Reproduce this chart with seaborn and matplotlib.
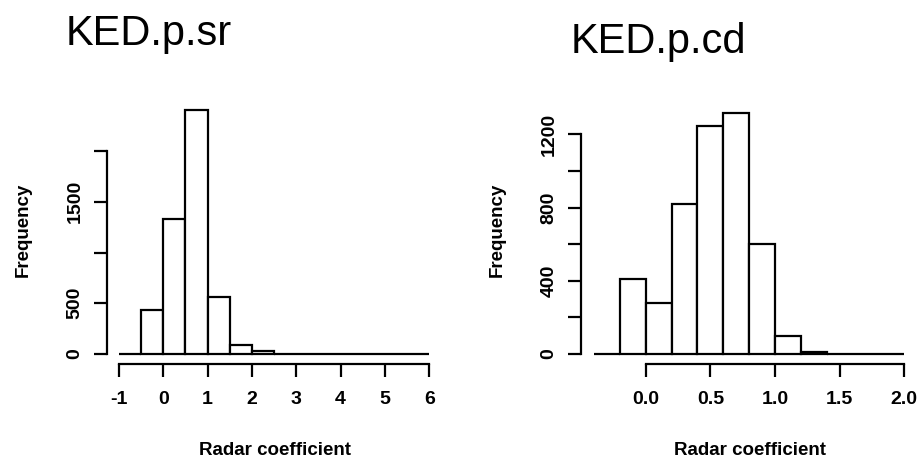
import matplotlib
matplotlib.use("Agg")
import matplotlib.pyplot as plt
import seaborn as sns
import numpy as np
import pandas as pd

## histogram data
sr_bins = [-1.0, -0.5, 0.0, 0.5, 1.0, 1.5, 2.0, 2.5, 3.0, 3.5, 4.0, 4.5, 5.0, 5.5, 6.0]
sr_counts = [0, 430, 1330, 2400, 565, 85, 25, 4, 2, 1, 1, 0, 0, 1]

cd_bins = [-0.4, -0.2, 0.0, 0.2, 0.4, 0.6, 0.8, 1.0, 1.2, 1.4, 1.6, 1.8, 2.0]
cd_counts = [0, 410, 278, 821, 1247, 1318, 601, 100, 13, 2, 1, 1]

sr_xticks = [-1, 0, 1, 2, 3, 4, 5, 6]
sr_yticks = [0, 500, 1000, 1500, 2000]
sr_ylabels = ["0", "500", "", "1500", ""]

cd_xticks = [0.0, 0.5, 1.0, 1.5, 2.0]
cd_xlabels = ["0.0", "0.5", "1.0", "1.5", "2.0"]
cd_yticks = [0, 200, 400, 600, 800, 1000, 1200]
cd_ylabels = ["0", "", "400", "", "800", "", "1200"]

sns.set_style("ticks")
plt.rcParams['font.family'] = ['Liberation Sans', 'DejaVu Sans']
plt.rcParams.update({"text.color": "black", "axes.edgecolor": "black",
                     "xtick.color": "black", "ytick.color": "black",
                     "xtick.labelcolor": "black", "ytick.labelcolor": "black"})

W, H = 921, 459
fig = plt.figure(figsize=(W / 100, H / 100), dpi=100)


def px_axes(l, r, t, b):
    # pixel box (from top-left) -> figure fraction axes
    return fig.add_axes([l / W, 1 - b / H, (r - l) / W, (b - t) / H])


def hist_panel(ax, bins, counts):
    edges = np.array(bins)
    df = pd.DataFrame({"mid": (edges[:-1] + edges[1:]) / 2, "n": counts})
    sns.histplot(data=df, x="mid", weights="n", bins=list(bins), ax=ax, stat="count",
                 color="white", edgecolor="black", linewidth=1.6, alpha=1)
    ax.set_xlabel("")
    ax.set_ylabel("")
    for s in ["top", "right"]:
        ax.spines[s].set_visible(False)
    for s in ["left", "bottom"]:
        ax.spines[s].set_linewidth(1.6)
        ax.spines[s].set_color("black")
    ax.tick_params(axis="both", width=1.6, length=9.2, labelsize=14,
                   color="black", labelcolor="black")
    ax.tick_params(axis="x", pad=10)
    ax.tick_params(axis="y", pad=7.5)


## left panel: KED.p.sr
xs1 = 44.33
ys1 = 0.1015
ax1 = px_axes(119 - 0.28 * xs1, 119 + 7.05 * xs1, 354 - 2500 * ys1, 364)
hist_panel(ax1, sr_bins, sr_counts)
ax1.set_xlim(-1.28, 6.05)
ax1.set_ylim(-10 / ys1, 2500)
ax1.set_xticks(sr_xticks)
ax1.set_xticklabels([str(t) for t in sr_xticks], fontweight="bold")
ax1.set_yticks(sr_yticks)
ax1.set_yticklabels(sr_ylabels, rotation=90, va="center", fontweight="bold")
ax1.spines["left"].set_bounds(0, 2000)
ax1.spines["bottom"].set_bounds(-1, 6)

## right panel: KED.p.cd
xs2 = 129.3
ys2 = 0.18308
ax2 = px_axes(645.7 - 0.504 * xs2, 645.7 + 2.05 * xs2, 354 - 1400 * ys2, 364)
hist_panel(ax2, cd_bins, cd_counts)
ax2.set_xlim(-0.504, 2.05)
ax2.set_ylim(-10 / ys2, 1400)
ax2.set_xticks(cd_xticks)
ax2.set_xticklabels(cd_xlabels, fontweight="bold")
ax2.set_yticks(cd_yticks)
ax2.set_yticklabels(cd_ylabels, rotation=90, va="center", fontweight="bold")
ax2.spines["left"].set_bounds(0, 1200)
ax2.spines["bottom"].set_bounds(0, 2)

## titles and axis labels
fig.text(66 / W, 1 - 45 / H, "KED.p.sr", fontsize=30, ha="left", va="baseline")
fig.text(571 / W, 1 - 52.7 / H, "KED.p.cd", fontsize=30, ha="left", va="baseline")

for cx in [274.7, 749.5]:
    fig.text(cx / W, 1 - 455 / H, "Radar coefficient", fontsize=13.5,
             fontweight="bold", ha="center", va="baseline")
for cx in [23, 497]:
    fig.text(cx / W, 1 - 230 / H, "Frequency", fontsize=13.5, fontweight="bold",
             rotation=90, ha="center", va="center")

plt.savefig("out.png", dpi=100)
